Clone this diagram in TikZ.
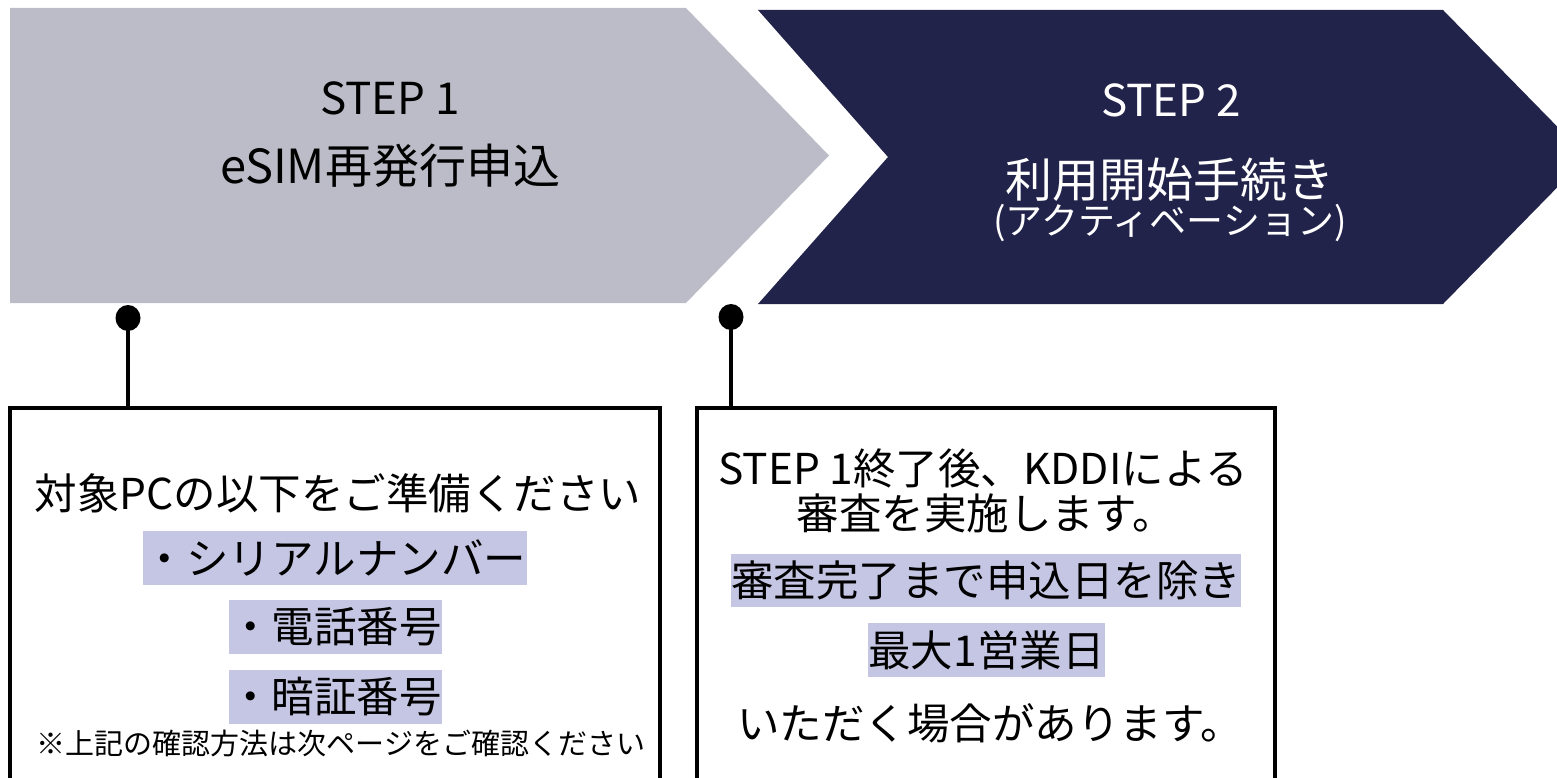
\documentclass[tikz,border=0pt]{standalone}
\usepackage{fontspec}
\setmainfont{Noto Sans CJK JP}
\definecolor{stepgrey}{RGB}{188,188,200}
\definecolor{stepnavy}{RGB}{34,35,74}
\definecolor{hlcol}{RGB}{197,198,227}
\tikzset{
  txt/.style={inner sep=0pt, align=center},
  hl/.style={fill=hlcol, inner sep=0pt},
  infobox/.style={draw=black, line width=3.5pt, fill=white, inner sep=0pt},
  pin/.style={line width=3.5pt},
  pindot/.style={fill=black},
  body/.style={font=\fontsize{42.5}{48}\selectfont}
}
\begin{document}
\begin{tikzpicture}[x=1pt,y=-1pt]
\useasboundingbox (0,0) rectangle (1557,778);
\clip (0,0) rectangle (1557,778);
% chevrons
\fill[stepgrey] (10,8) -- (686,8) -- (829,155.5) -- (686,303) -- (10,303) -- cycle;
\fill[stepnavy] (758,10) -- (1443,10) -- (1587,157) -- (1443,304) -- (758,304) -- (888,157) -- cycle;
% header texts
\node[txt, font=\fontsize{44}{50}\selectfont] (s1) at (390,98) {STEP 1};
\node[txt, font=\fontsize{47}{52}\selectfont] (s1t) at (390,166) {eSIM再発行申込};
\node[txt, text=white, font=\fontsize{44}{50}\selectfont] (s2) at (1171,100) {STEP 2};
\node[txt, text=white, font=\fontsize{47}{52}\selectfont] (s2t) at (1170,180) {利用開始手続き};
\node[txt, text=white, font=\fontsize{37}{42}\selectfont] (s2s) at (1170,223) {(アクティベーション)};
% info boxes
\node[infobox, minimum width=650, minimum height=400] (box1) at (335,608) {};
\node[infobox, minimum width=578, minimum height=400] (box2) at (986,608) {};
% pins
\coordinate (d1) at (128,318);
\coordinate (d2) at (731,317);
\fill[pindot] (d1) ellipse (12.5 and 13);
\fill[pindot] (d2) ellipse (12.5 and 13);
\draw[pin] (d1) -- (d1 |- box1.north);
\draw[pin] (d2) -- (d2 |- box2.north);
% box 1 texts
\node[txt, body] (b1l1) at (338,493) {対象PCの以下をご準備ください};
\node[hl, body, minimum width=384, minimum height=54] (b1h1) at (335,558) {・シリアルナンバー};
\node[hl, body, minimum width=213, minimum height=54] (b1h2) at (335.5,627) {・電話番号};
\node[hl, body, minimum width=213, minimum height=54] (b1h3) at (335.5,697) {・暗証番号};
\node[txt, font=\fontsize{29}{33}\selectfont] (b1n) at (341,743) {※上記の確認方法は次ページをご確認ください};
% box 2 texts
\node[txt, body] (b2l1) at (983,468) {STEP 1終了後、KDDIによる};
\node[txt, body] (b2l2) at (986,513) {審査を実施します。};
\node[hl, body, minimum width=510, minimum height=53] (b2h1) at (986,580.5) {審査完了まで申込日を除き};
\node[hl, body, minimum width=227, minimum height=54] (b2h2) at (986.5,650) {最大1営業日};
\node[txt, body] (b2l3) at (990,723) {いただく場合があります。};
\end{tikzpicture}
\end{document}
